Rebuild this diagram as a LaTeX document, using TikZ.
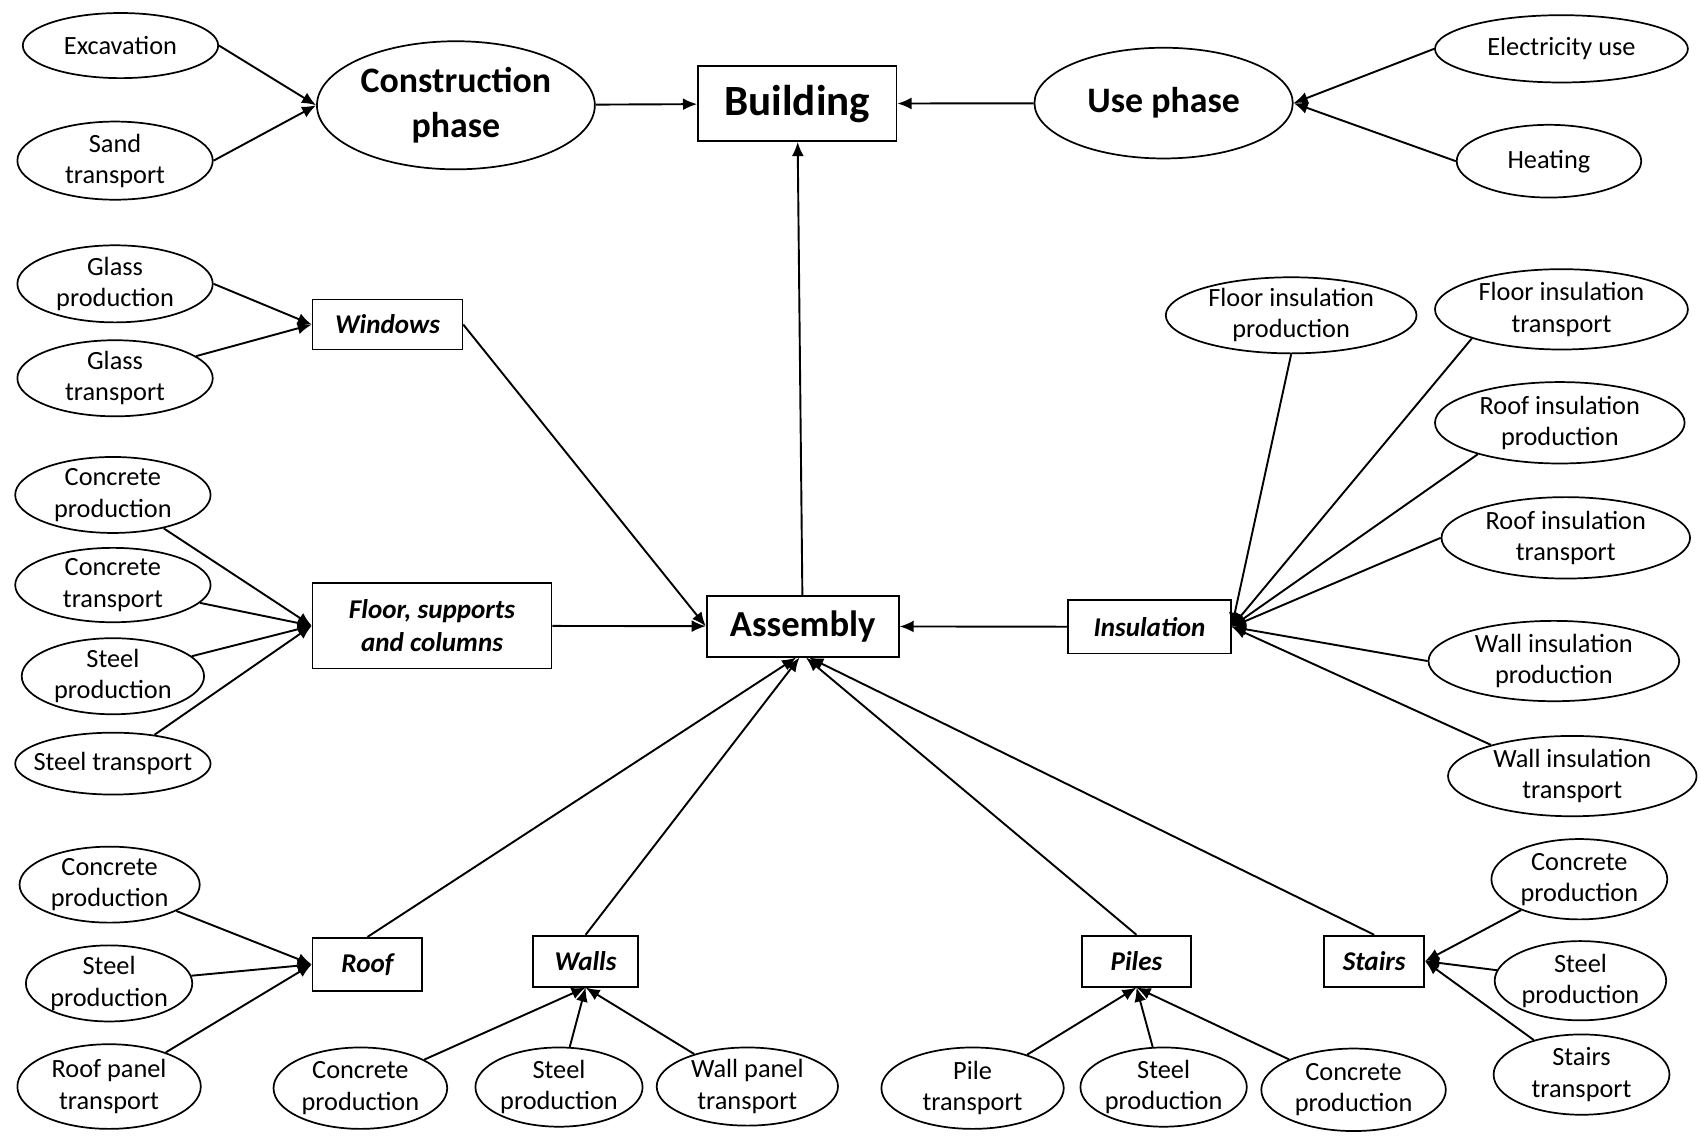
\documentclass[tikz,border=0pt]{standalone}
\usepackage{fontspec}
\setmainfont{Carlito}
\usetikzlibrary{shapes.geometric,arrows.meta}

\begin{document}
\begin{tikzpicture}[x=1mm, y=-1mm,
    leaf/.style={draw, ellipse, line width=.45pt, inner sep=0pt, align=center, font=\fontsize{6.9}{8.2}\selectfont},
    part/.style={draw, line width=.45pt, inner sep=0pt, align=center, font=\fontsize{7.1}{8.5}\selectfont\bfseries\itshape},
    phase/.style={draw, ellipse, line width=.45pt, inner sep=0pt, align=center, font=\fontsize{9.4}{11.6}\selectfont\bfseries},
    arr/.style={-{Latex[length=1.3mm,width=1.1mm]}, line width=.5pt}]
    \useasboundingbox (0,0) rectangle (156.8,104.9);

    % top row
    \node[leaf, minimum width=18mm, minimum height=6mm] (exc) at (11.1,4.2) {Excavation};
    \node[leaf, minimum width=18mm, minimum height=7.2mm] (sand) at (10.6,14.8) {Sand\\transport};
    \node[phase, minimum width=25.6mm, minimum height=11.8mm] (cp) at (42,9.7) {Construction\\phase};
    \node[draw, line width=.45pt, minimum width=18.3mm, minimum height=6.9mm, font=\fontsize{11.3}{13}\selectfont\bfseries] (bld) at (73.45,9.55) {Building};
    \node[phase, minimum width=23.8mm, minimum height=10.2mm] (up) at (107.2,9.5) {Use phase};
    \node[leaf, minimum width=23.3mm, minimum height=6.2mm] (elec) at (143.85,4.5) {Electricity use};
    \node[leaf, minimum width=17mm, minimum height=6.7mm] (heat) at (142.7,14.85) {Heating};

    \draw[arr] (exc.east) -- (cp.west);
    \draw[arr] (sand.east) -- (cp.west);
    \draw[arr] (cp) -- (bld);
    \draw[arr] (up) -- (bld);
    \draw[arr] (elec.west) -- (up.east);
    \draw[arr] (heat.west) -- (up.east);

    % windows
    \node[leaf, minimum width=18mm, minimum height=7.1mm] (gp) at (10.6,26.15) {Glass\\production};
    \node[leaf, minimum width=18mm, minimum height=6.9mm] (gt) at (10.6,34.85) {Glass\\transport};
    \node[part, minimum width=13.8mm, minimum height=4.6mm] (win) at (35.7,29.9) {Windows};
    \draw[arr] (gp.east) -- (win.west);
    \draw[arr] (gt) -- (win.west);

    % floor, supports and columns
    \node[leaf, minimum width=18mm, minimum height=7mm] (fcp) at (10.4,45.6) {Concrete\\production};
    \node[leaf, minimum width=18mm, minimum height=6mm] (fct) at (10.4,53.9) {Concrete\\transport};
    \node[leaf, minimum width=16.8mm, minimum height=7mm] (fsp) at (10.4,62.3) {Steel\\production};
    \node[leaf, minimum width=18mm, minimum height=5.7mm, inner xsep=-4mm] (fst) at (10.4,70.35) {Steel transport};
    \node[part, minimum width=22mm, minimum height=7.9mm] (fsc) at (39.8,57.65) {Floor, supports\\and columns};
    \draw[arr] (fcp) -- (fsc.west);
    \draw[arr] (fct) -- (fsc.west);
    \draw[arr] (fsp) -- (fsc.west);
    \draw[arr] (fst) -- (fsc.west);

    % assembly
    \node[draw, line width=.45pt, minimum width=17.7mm, minimum height=5.6mm, font=\fontsize{9.6}{11.6}\selectfont\bfseries] (asm) at (73.95,57.7) {Assembly};
    \draw[arr] (asm) -- (bld);
    \draw[arr] (win.east) -- (asm.west);
    \draw[arr] (fsc) -- (asm);

    % insulation
    \node[part, minimum width=15mm, minimum height=4.9mm] (ins) at (105.9,57.75) {Insulation};
    \node[leaf, minimum width=23.1mm, minimum height=6.9mm] (fip) at (118.95,29.05) {Floor insulation\\production};
    \node[leaf, minimum width=23.3mm, minimum height=7.4mm] (fit) at (143.85,28.5) {Floor insulation\\transport};
    \node[leaf, minimum width=23mm, minimum height=7.5mm] (rip) at (143.7,38.95) {Roof insulation\\production};
    \node[leaf, minimum width=22.9mm, minimum height=7.5mm] (rit) at (144.25,49.55) {Roof insulation\\transport};
    \node[leaf, minimum width=23.1mm, minimum height=7.4mm] (wip) at (143.15,60.9) {Wall insulation\\production};
    \node[leaf, minimum width=22.9mm, minimum height=7.4mm] (wit) at (144.85,71.5) {Wall insulation\\transport};
    \draw[arr] (ins) -- (asm);
    \draw[arr] (fip.south) -- (ins.east);
    \draw[arr] (fit.198) -- (ins.east);
    \draw[arr] (rip.201) -- (ins.east);
    \draw[arr] (rit.west) -- (ins.east);
    \draw[arr] (wip.west) -- (ins.east);
    \draw[arr] (wit.159) -- (ins.east);

    % roof
    \node[leaf, minimum width=16.6mm, minimum height=7mm] (rcp) at (10.1,81.5) {Concrete\\production};
    \node[leaf, minimum width=15.3mm, minimum height=6.8mm] (rsp) at (10.05,90.6) {Steel\\production};
    \node[leaf, minimum width=16.9mm, minimum height=7.8mm] (rpt) at (10.05,100.1) {Roof panel\\transport};
    \node[part, minimum width=10.1mm, minimum height=4.9mm] (roof) at (33.85,88.85) {Roof};
    \draw[arr] (rcp) -- (roof.west);
    \draw[arr] (rsp) -- (roof.west);
    \draw[arr] (rpt) -- (roof.west);

    % walls
    \node[part, minimum width=9.7mm, minimum height=4.7mm] (walls) at (53.95,88.55) {Walls};
    \node[leaf, minimum width=16mm, minimum height=7.5mm] (wcp) at (33.2,100.25) {Concrete\\production};
    \node[leaf, minimum width=15.4mm, minimum height=7.3mm] (wsp) at (51.5,100.15) {Steel\\production};
    \node[leaf, minimum width=16.7mm, minimum height=7.2mm] (wpt) at (68.85,100.1) {Wall panel\\transport};
    \draw[arr] (wcp) -- (walls.south);
    \draw[arr] (wsp) -- (walls.south);
    \draw[arr] (wpt) -- (walls.south);

    % piles
    \node[part, minimum width=10mm, minimum height=4.7mm] (piles) at (104.7,88.55) {Piles};
    \node[leaf, minimum width=16.8mm, minimum height=7.5mm] (ppt) at (89.6,100.25) {Pile\\transport};
    \node[leaf, minimum width=15.2mm, minimum height=7.3mm] (psp) at (107.2,100.15) {Steel\\production};
    \node[leaf, minimum width=17mm, minimum height=7.6mm] (pcp) at (124.7,100.4) {Concrete\\production};
    \draw[arr] (ppt) -- (piles.south);
    \draw[arr] (psp) -- (piles.south);
    \draw[arr] (pcp) -- (piles.south);

    % stairs
    \node[part, minimum width=9.2mm, minimum height=4.7mm] (stairs) at (126.6,88.55) {Stairs};
    \node[leaf, minimum width=16.2mm, minimum height=7.4mm] (scp) at (145.5,81) {Concrete\\production};
    \node[leaf, minimum width=15.8mm, minimum height=7.3mm] (ssp) at (145.6,90.35) {Steel\\production};
    \node[leaf, minimum width=16.2mm, minimum height=7.4mm] (stt) at (145.7,99) {Stairs\\transport};
    \draw[arr] (scp) -- (stairs.east);
    \draw[arr] (ssp) -- (stairs.east);
    \draw[arr] (stt) -- (stairs.east);

    \draw[arr] (roof.north) -- ([xshift=-.6mm]asm.south);
    \draw[arr] (walls.north) -- ([xshift=-.3mm]asm.south);
    \draw[arr] (piles.north) -- ([xshift=.3mm]asm.south);
    \draw[arr] (stairs.north) -- ([xshift=.6mm]asm.south);
\end{tikzpicture}
\end{document}
